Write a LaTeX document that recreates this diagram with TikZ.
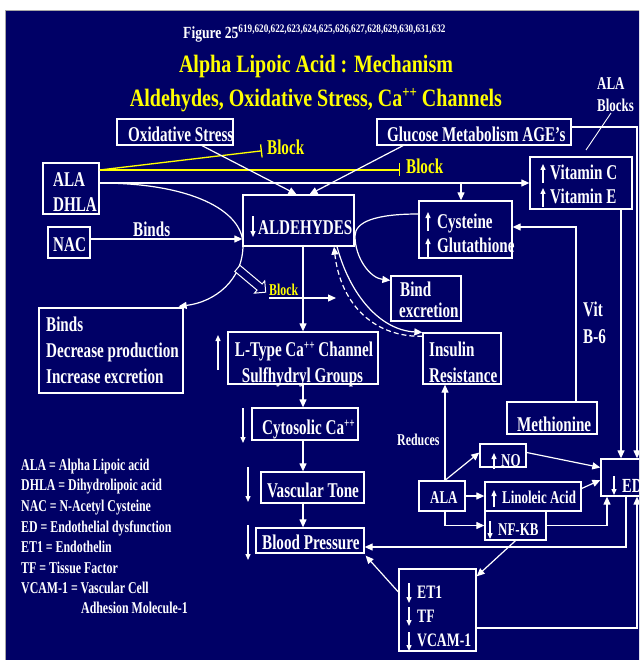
\documentclass[tikz,border=0pt]{standalone}
\usepackage{fontspec}
\setmainfont{Liberation Serif}[FakeStretch=0.72]
\newfontfamily\titlefont{Liberation Serif}[FakeStretch=0.8]
\usetikzlibrary{arrows.meta,shapes.arrows}
\definecolor{navy}{RGB}{0,0,102}
\definecolor{ylw}{RGB}{255,255,0}
\newcommand\sups[2]{\raisebox{#1}{\fontsize{#2}{#2}\selectfont ++}}
\begin{document}
\begin{tikzpicture}[x=1pt,y=-1pt,
  box/.style={draw=white, line width=1.3pt, inner sep=0pt},
  txt/.style={text=white, inner sep=0pt, anchor=base west, font=\bfseries\fontsize{21}{21}\selectfont},
  txs/.style={txt, font=\bfseries\fontsize{18}{18}\selectfont},
  leg/.style={txt, font=\bfseries\fontsize{16.5}{16.5}\selectfont},
  ytx/.style={txt, text=ylw},
  ttl/.style={text=ylw, inner sep=0pt, anchor=base, font=\titlefont\bfseries\fontsize{25}{25}\selectfont},
  arr/.style={draw=white, line width=1.2pt, -{Triangle[length=8pt,width=7pt]}},
  mk/.style={draw=white, line width=1.3pt, -{Triangle[length=6pt,width=5pt]}},
  yl/.style={draw=ylw, line width=1.3pt, -{Bar[width=13pt]}},
  thin/.style={draw=white, line width=0.9pt}]
\useasboundingbox (0,0) rectangle (639,660);
\clip (0,0) rectangle (639,660);
\fill[white] (0,0) rectangle (639,660);
\fill[navy] (5,11) rectangle (640,661);
\draw[gray!70, line width=1pt] (5,661) -- (5,11) -- (640,11);

% titles
\node[txt, font=\titlefont\bfseries\fontsize{17}{17}\selectfont] (fig) at (183,39) {Figure 25{\fontsize{11.5}{11.5}\selectfont\raisebox{6pt}{619,620,622,623,624,625,626,627,628,629,630,631,632}}};
\node[ttl] (t1) at (316,73) {Alpha Lipoic Acid : Mechanism};
\node[ttl] (t2) at (316,107) {Aldehydes, Oxidative Stress, Ca\sups{9pt}{16} Channels};

% boxes
\node[box, minimum width=116pt, minimum height=26pt] (oxs) at (175,132) {};
\node[box, minimum width=194pt, minimum height=26pt] (glu) at (474,132) {};
\node[box, minimum width=56pt, minimum height=51pt] (ala) at (71,188.5) {};
\node[box, minimum width=42pt, minimum height=31pt] (nac) at (69,242.5) {};
\node[box, minimum width=111pt, minimum height=51pt] (ald) at (298.5,220.5) {};
\node[box, minimum width=102pt, minimum height=52pt] (vit) at (581,183) {};
\node[box, minimum width=93pt, minimum height=57pt] (cys) at (465.5,229.5) {};
\node[box, minimum width=70pt, minimum height=45pt] (bex) at (426,298.5) {};
\node[box, minimum width=144pt, minimum height=85pt] (bdp) at (111,350.5) {};
\node[box, minimum width=150pt, minimum height=52pt] (lty) at (303,358) {};
\node[box, minimum width=106pt, minimum height=32pt] (cyt) at (305,424) {};
\node[box, minimum width=103pt, minimum height=31pt] (vtn) at (312.5,487.5) {};
\node[box, minimum width=108pt, minimum height=25pt] (bp) at (310,540.5) {};
\node[box, minimum width=78pt, minimum height=51pt] (ins) at (462,358.5) {};
\node[box, minimum width=90pt, minimum height=32pt] (met) at (552,418) {};
\node[box, minimum width=46pt, minimum height=30pt] (ala2) at (442,496) {};
\node[box, minimum width=46pt, minimum height=23pt] (no) at (503,455.5) {};
\node[box, minimum width=96pt, minimum height=29pt] (lin) at (533,496.5) {};
\node[box, minimum width=61pt, minimum height=29pt] (nfk) at (515.5,525.5) {};
\node[box, minimum width=64pt, minimum height=37pt] (ed) at (633,477.5) {};
\node[box, minimum width=77pt, minimum height=82pt] (et) at (437.5,610) {};

% box texts
\node[txt] (oxst) at (128,142) {Oxidative Stress};
\node[txt] (glut) at (387,142) {Glucose Metabolism AGE’s};
\node[txt] (alat1) at (53,186) {ALA};
\node[txt] (alat2) at (53,211.5) {DHLA};
\node[txt] (nact) at (53,251) {NAC};
\node[txt] (aldt) at (258,234) {ALDEHYDES};
\node[txt] (vitt1) at (550,180) {Vitamin C};
\node[txt] (vitt2) at (550,203.5) {Vitamin E};
\node[txt] (cyst1) at (437,228) {Cysteine};
\node[txt] (cyst2) at (437,252.5) {Glutathione};
\node[txt] (bext1) at (400,296.5) {Bind};
\node[txt] (bext2) at (399,317) {excretion};
\node[txt] (bdpt1) at (46,331) {Binds};
\node[txt] (bdpt2) at (46,357) {Decrease production};
\node[txt] (bdpt3) at (46,383) {Increase excretion};
\node[txt, anchor=base] (ltyt1) at (304,356) {L-Type Ca\sups{7pt}{13} Channel};
\node[txt, anchor=base] (ltyt2) at (302.5,382) {Sulfhydryl Groups};
\node[txt] (cytt) at (262,434) {Cytosolic Ca\sups{7pt}{13}};
\node[txt] (vtnt) at (267,497) {Vascular Tone};
\node[txt] (bpt) at (262,549) {Blood Pressure};
\node[txt] (inst1) at (429,356) {Insulin};
\node[txt] (inst2) at (429,382) {Resistance};
\node[txt] (mett) at (517,431.5) {Methionine};
\node[txs] (ala2t) at (430,503) {ALA};
\node[txs] (not) at (501,466) {NO};
\node[txs] (lint) at (502,503) {Linoleic Acid};
\node[txs] (nfkt) at (498,535) {NF-KB};
\node[txt, font=\bfseries\fontsize{20}{20}\selectfont] (edt) at (622,492) {ED};
\node[txs, font=\bfseries\fontsize{19}{19}\selectfont] (ett1) at (417,598) {ET1};
\node[txs, font=\bfseries\fontsize{19}{19}\selectfont] (ett2) at (417,622) {TF};
\node[txs, font=\bfseries\fontsize{19}{19}\selectfont] (ett3) at (417,646) {VCAM-1};

% free labels
\node[txt] (binds) at (133,236.5) {Binds};
\node[ytx] (blk1) at (267,155) {Block};
\node[ytx] (blk2) at (406,173.5) {Block};
\node[ytx, font=\bfseries\fontsize{16.5}{16.5}\selectfont] (blk3) at (269,295) {Block};
\node[leg] (red) at (397,445) {Reduces};
\node[txt] (vit1) at (583,316) {Vit};
\node[txt] (vit2) at (583,343) {B-6};
\node[txt, font=\bfseries\fontsize{18}{18}\selectfont] (alab1) at (597,90) {ALA};
\node[txt, font=\bfseries\fontsize{18}{18}\selectfont] (alab2) at (597,112) {Blocks};

% legend
\node[leg] (lg1) at (21,470) {ALA = Alpha Lipoic acid};
\node[leg] (lg2) at (21,490) {DHLA = Dihydrolipoic acid};
\node[leg] (lg3) at (21,511) {NAC = N-Acetyl Cysteine};
\node[leg] (lg4) at (21,532) {ED = Endothelial dysfunction};
\node[leg] (lg5) at (21,552) {ET1 = Endothelin};
\node[leg] (lg6) at (21,573) {TF = Tissue Factor};
\node[leg] (lg7) at (21,593) {VCAM-1 = Vascular Cell};
\node[leg] (lg8) at (81,613) {Adhesion Molecule-1};

% in-box up/down markers
\draw[mk] (253,216) -- (253,237);
\draw[mk] (543,183) -- (543,164);
\draw[mk] (543,207) -- (543,188);
\draw[mk] (428,231) -- (428,212);
\draw[mk] (428,258) -- (428,238);
\draw[mk] (494,469) -- (494,453);
\draw[mk] (494,507) -- (494,490);
\draw[mk] (490,521) -- (490,539);
\draw[mk] (614,476) -- (614,495);
\draw[mk] (409,583) -- (409,603);
\draw[mk] (409,607) -- (409,626);
\draw[mk] (409,632) -- (409,651);
% outside markers
\draw[mk] (218,370) -- (218,335);
\draw[mk] (243,408) -- (243,443);
\draw[mk] (248,467) -- (248,502);
\draw[mk] (248,525) -- (248,560);

% yellow blocks
\coordinate (b2) at (400,170);
\draw[yl] (ala.east |- b2) -- ([xshift=-5pt,yshift=-3pt]blk1.west);
\draw[yl] (ala.east |- b2) -- (b2);

% ALA lines
\coordinate (br) at (461,183);
\draw[arr] (ala.east |- vit.west) -- (vit.west);
\draw[arr] (br) -- (br |- cys.north);
\draw[arr] (ala.east |- vit.west) .. controls (190,183) and (243,210) .. (243,245)
   .. controls (243,280) and (215,302) .. ([xshift=-5pt,yshift=1pt]bdp.north east);
\draw[arr] ([yshift=3.5pt]nac.east) -- ([yshift=3.5pt]nac.east -| ald.west);

% hollow arrow and block line
\node[single arrow, draw=white, fill=navy, line width=1pt, minimum height=37pt,
      inner sep=3.5pt, single arrow head extend=4pt, rotate=-40] (hol) at (250,279) {};
\coordinate (blkend) at (336,298);
\draw[arr] ([yshift=-3pt]blk3.base west) -- (blkend);

% into aldehydes
\draw[arr] ([xshift=27pt]oxs.south) -- ([xshift=-2pt]ald.north);
\draw[arr] ([xshift=-71pt]glu.south) -- ([xshift=11pt]ald.north);

% right side
\draw[arr] ([yshift=5pt]glu.east) -| ([xshift=4pt]ed.north);
\draw[arr] ([xshift=40pt]vit.south) -- ([xshift=-12pt]ed.north);
\draw[arr] ([xshift=24pt]met.north) |- ([yshift=2.5pt]cys.east);
\draw[arr] ([yshift=15.5pt]cys.west) .. controls (375,214) and (355,222) .. (355,236)
   .. controls (355,258) and (370,278) .. ([yshift=-5pt]bex.north west);

% vertical chain
\draw[arr] (ald.south -| lty.north) -- (lty.north);
\draw[arr] (lty.south) -- (lty.south |- cyt.north);
\draw[arr] (cyt.south -| lty.south) -- (vtn.north -| lty.south);
\draw[arr] (vtn.south -| lty.south) -- (bp.north -| lty.south);

% insulin curves
\draw[arr] ([xshift=38.5pt]ald.south) .. controls (350,295) and (380,330) .. (ins.north west);
\draw[arr, dash pattern=on 5pt off 3pt] ([yshift=-4pt]ins.north west) .. controls (370,337) and (340,300) .. ([xshift=35.5pt]ald.south);

% lower ALA cluster
\draw[arr] ([xshift=3pt]ala2.north) -- ([xshift=3pt]ala2.north |- ins.south);
\draw[arr] ([xshift=3pt]ala2.north) -- ([yshift=3pt]no.west);
\draw[arr] ([yshift=3pt]no.east) -- ([yshift=10pt]ed.west);
\draw[arr] (ala2.east) -- (ala2.east -| lin.west);
\draw[arr] ([yshift=8pt]lin.east) -- ([yshift=-2.5pt]ed.west);
\draw[arr] ([xshift=3pt]ala2.south) |- (nfk.west);
\draw[arr] (nfk.east) -| ([xshift=-26pt]ed.south);
\draw[arr] ([xshift=-7pt]ed.south) |- ([yshift=-6.5pt]bp.east);
\draw[arr] (nfk.south) -- ([yshift=-8pt]et.north east);
\draw[arr] ([yshift=18pt]et.west) -- ([xshift=1pt,yshift=-2pt]bp.south east);
\draw[arr] ([yshift=-18pt]et.east) -| ([xshift=4pt]ed.south);

% ALA blocks pointer
\coordinate (albe) at (586,150);
\draw[thin] ([xshift=14pt,yshift=-1pt]alab2.base west) -- (albe);
\end{tikzpicture}
\end{document}
